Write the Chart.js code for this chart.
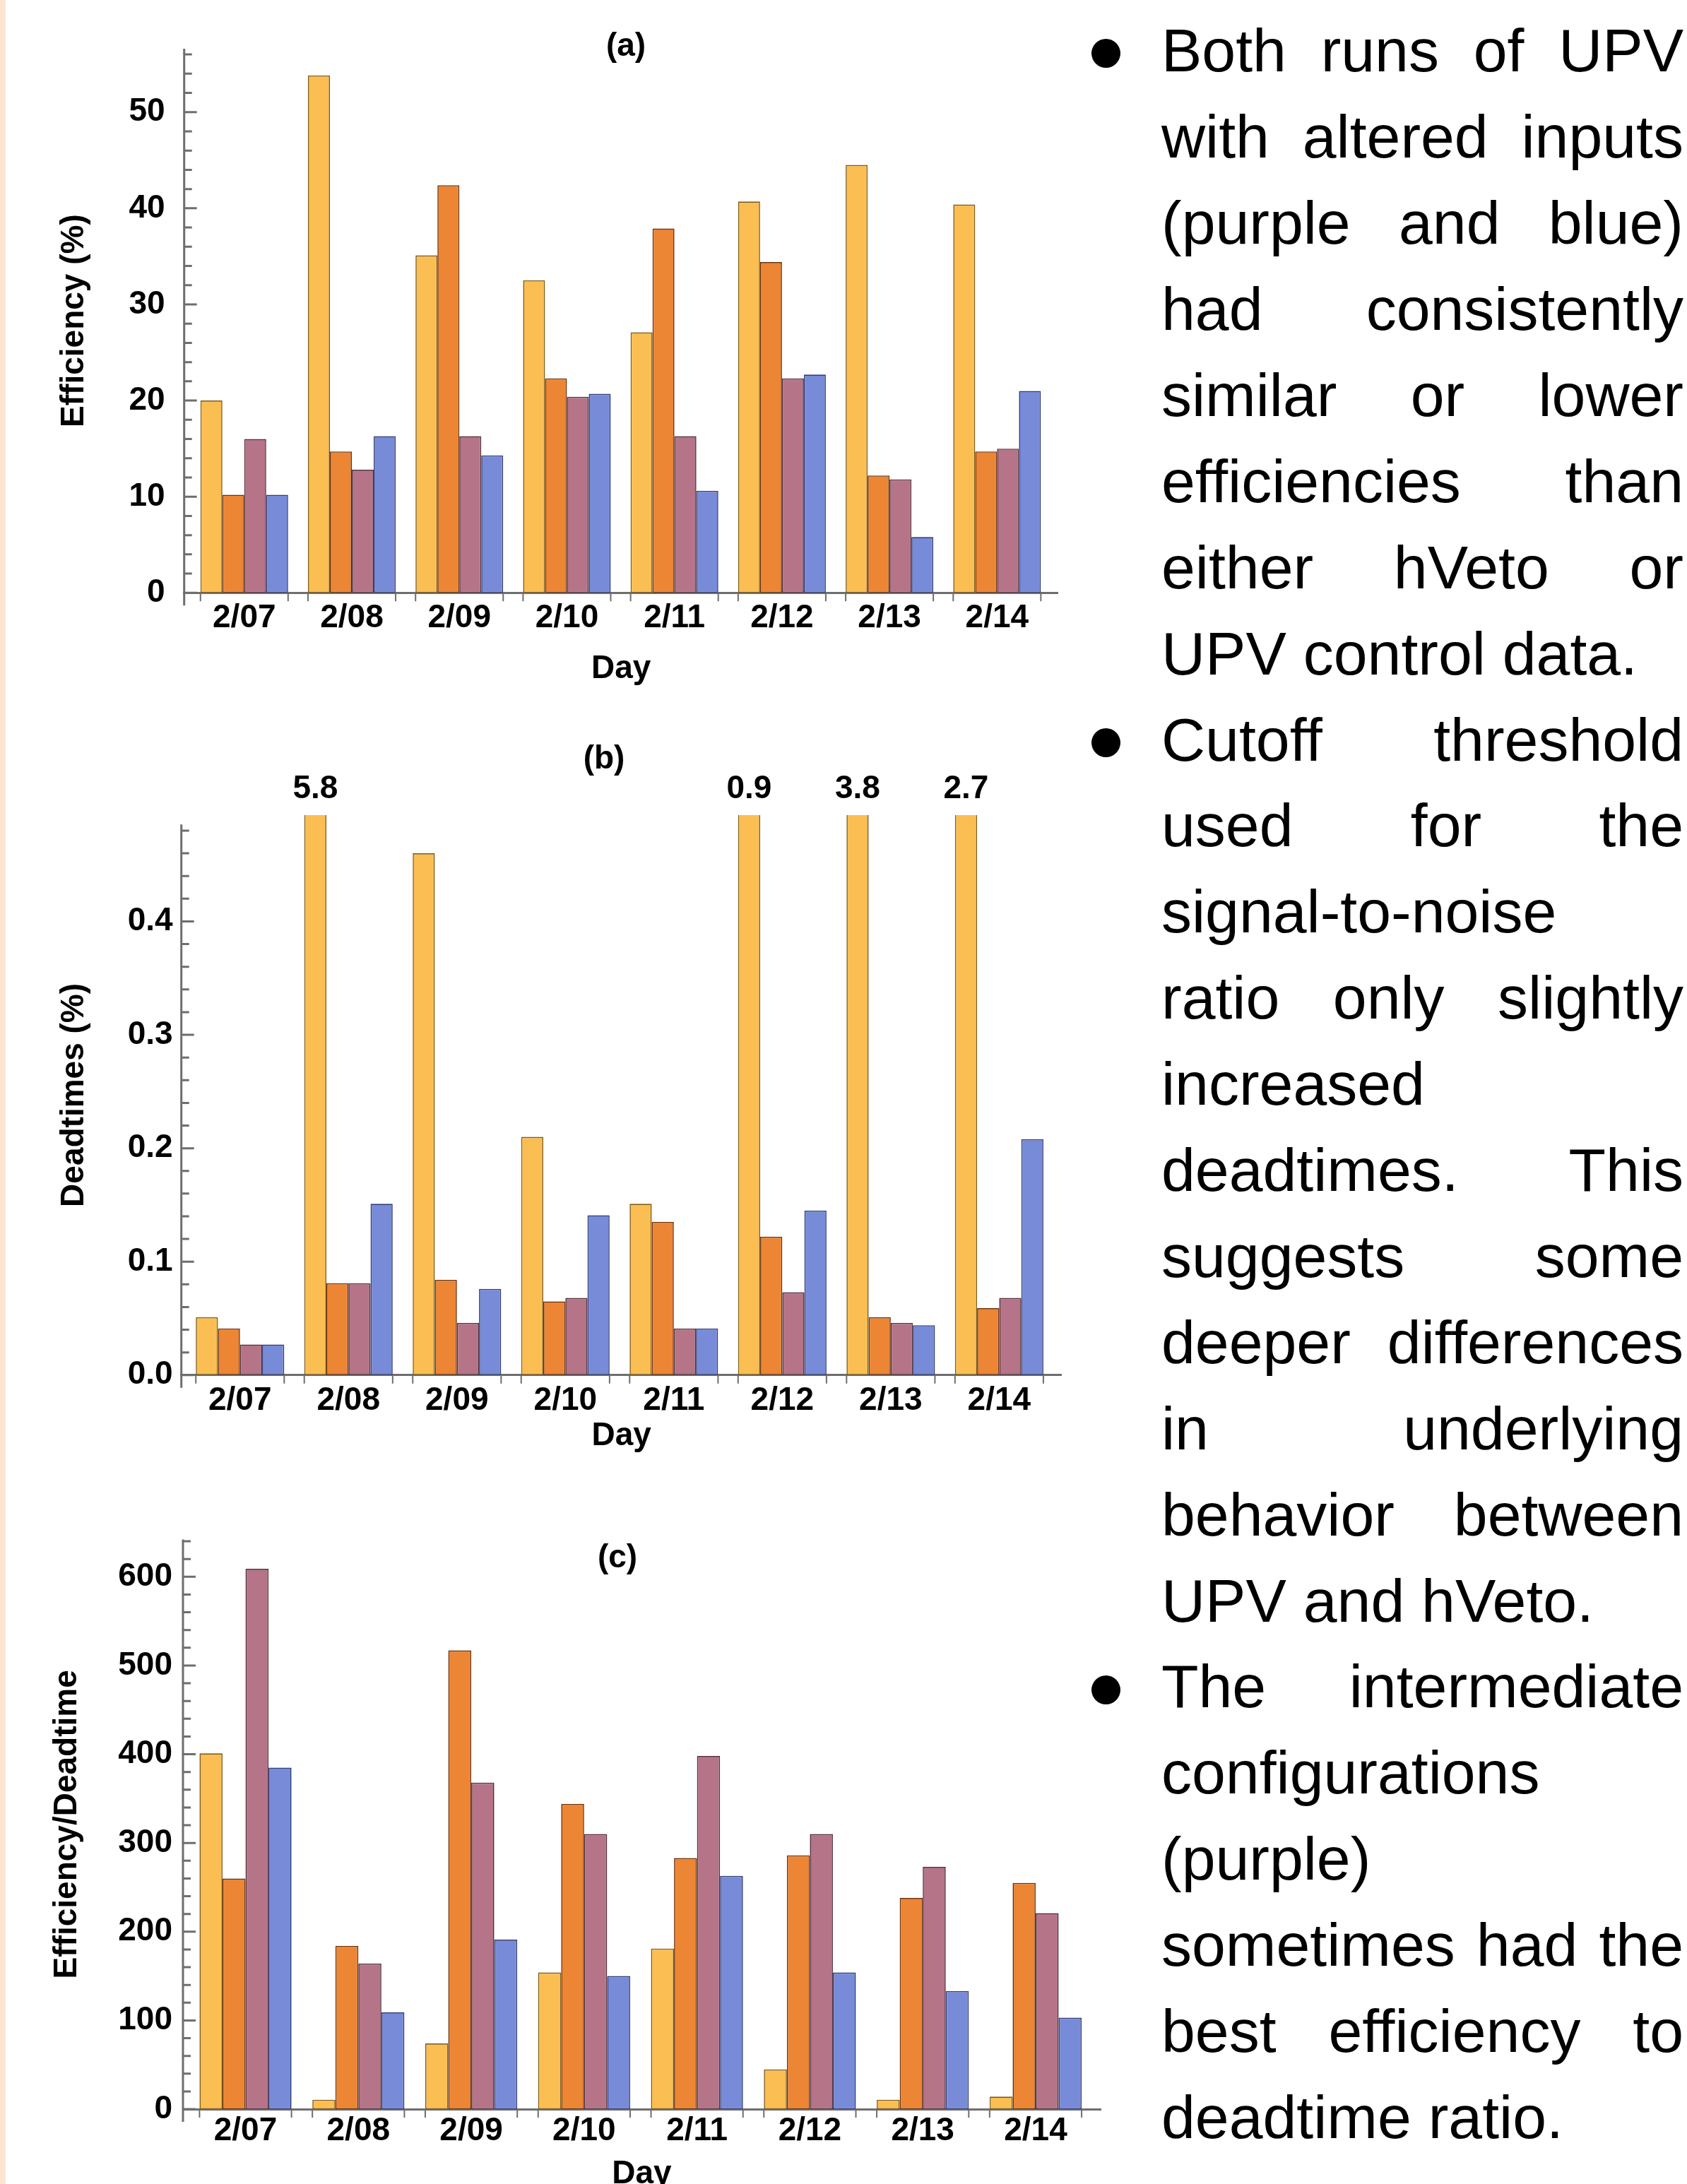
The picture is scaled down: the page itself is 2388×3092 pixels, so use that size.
<!DOCTYPE html>
<html>
<head>
<meta charset="utf-8">
<script src="https://cdn.jsdelivr.net/npm/chart.js@4.4.1/dist/chart.umd.min.js"></script>
<style>
  html, body { margin: 0; padding: 0; background: #fff; }
  body { width: 2388px; height: 3092px; position: relative; overflow: hidden; font-family: 'Liberation Sans', Arial, sans-serif; }
  .strip { position: absolute; left: 0; top: 0; width: 8px; height: 3092px; background: #fce5d1; }
  canvas { position: absolute; left: 0; }
  #notes { position: absolute; left: 1644px; top: 11.25px; width: 739px; font-size: 86px; line-height: 121.9px; color: #000; }
  #notes div { text-align: justify; text-align-last: justify; }
  #notes div.end { text-align-last: left; }
  .dot { position: absolute; left: 1545px; width: 41px; height: 41px; border-radius: 50%; background: #000; }
</style>
</head>
<body>
<div class="strip"></div>
<canvas id="chartA" width="1600" height="975" style="top:0px"></canvas>
<canvas id="chartB" width="1600" height="1061" style="top:1000px"></canvas>
<canvas id="chartC" width="1600" height="1026" style="top:2080px"></canvas>

<div class="dot" style="top:55px"></div>
<div class="dot" style="top:1031px"></div>
<div class="dot" style="top:2372px"></div>
<div id="notes">
  <div>Both runs of UPV</div>
  <div>with altered inputs</div>
  <div>(purple and blue)</div>
  <div>had consistently</div>
  <div>similar or lower</div>
  <div>efficiencies than</div>
  <div>either hVeto or</div>
  <div class="end">UPV control data.</div>
  <div>Cutoff threshold</div>
  <div>used for the</div>
  <div>signal-to-noise</div>
  <div>ratio only slightly</div>
  <div>increased</div>
  <div>deadtimes. This</div>
  <div>suggests some</div>
  <div>deeper differences</div>
  <div>in underlying</div>
  <div>behavior between</div>
  <div class="end">UPV and hVeto.</div>
  <div>The intermediate</div>
  <div>configurations</div>
  <div>(purple)</div>
  <div>sometimes had the</div>
  <div>best efficiency to</div>
  <div class="end">deadtime ratio.</div>
</div>

<script>
const days = ['2/07', '2/08', '2/09', '2/10', '2/11', '2/12', '2/13', '2/14'];
const seriesNames = ['hVeto', 'UPV control', 'UPV intermediate', 'UPV altered'];

// (a) efficiency, %
const effHveto = [20.0, 53.8, 35.1, 32.5, 27.1, 40.7, 44.5, 40.4];
const effUpv   = [10.2, 14.7, 42.4, 22.3, 37.9, 34.4, 12.2, 14.7];
const effMid   = [16.0, 12.8, 16.3, 20.4, 16.3, 22.3, 11.8, 15.0];
const effAlt   = [10.2, 16.3, 14.3, 20.7, 10.6, 22.7, 5.8, 21.0];

// (b) deadtime, % (hVeto values above the axis are printed over the bar)
const deadHveto = [0.051, 5.8, 0.46, 0.21, 0.151, 0.9, 3.8, 2.7];
const deadUpv   = [0.041, 0.081, 0.084, 0.065, 0.135, 0.122, 0.051, 0.059];
const deadMid   = [0.027, 0.081, 0.046, 0.068, 0.041, 0.073, 0.046, 0.068];
const deadAlt   = [0.027, 0.151, 0.076, 0.141, 0.041, 0.145, 0.044, 0.208];

// (c) efficiency / deadtime
const ratioHveto = [401, 10.6, 74, 154, 181, 44.6, 10.6, 14.1];
const ratioUpv   = [260, 184, 517, 344, 283, 286, 238, 255];
const ratioMid   = [609, 164, 368, 310, 398, 310, 273, 221];
const ratioAlt   = [385, 109, 191, 150, 263, 154, 133, 103];

const fills = ['#fbbe52', '#ec8534', '#b57488', '#788bd8'];
const edges = ['#7d5a17', '#6a300a', '#53303d', '#313d75'];
const axisGray = '#6e6e6e';
const group = 0.815;
const boldFont = { family: "'Liberation Sans', Arial, sans-serif", size: 46, weight: 'bold' };

Chart.defaults.color = '#000';

// inward y ticks, group edge ticks on x, panel label and values of cut-off bars
const axisMarks = {
  id: 'axisMarks',
  afterDatasetsDraw(chart, args, opts) {
    const { ctx, chartArea: a, scales: { x, y } } = chart;
    ctx.save();
    ctx.strokeStyle = axisGray;
    ctx.lineWidth = 3;
    ctx.beginPath();
    const top = y.getPixelForValue(opts.axisTop ?? y.max);
    ctx.moveTo(a.left, top);
    ctx.lineTo(a.left, a.bottom + 18);
    y.ticks.forEach(t => {
      const p = y.getPixelForValue(t.value);
      const len = t.label ? 18 : 11;
      ctx.moveTo(a.left, p);
      ctx.lineTo(a.left + len, p);
    });
    ctx.stroke();

    ctx.lineWidth = 2;
    ctx.beginPath();
    days.forEach((d, i) => {
      [i - group / 2, i + group / 2].forEach(v => {
        const p = x.getPixelForValue(v);
        ctx.moveTo(p, a.bottom);
        ctx.lineTo(p, a.bottom + 12);
      });
    });
    ctx.stroke();

    ctx.fillStyle = '#000';
    ctx.font = "bold 46px 'Liberation Sans', Arial, sans-serif";
    ctx.textAlign = 'center';
    ctx.textBaseline = 'middle';
    if (opts.panel) ctx.fillText(opts.panel.text, opts.panel.x, opts.panel.y);
    chart.data.datasets.forEach((ds, di) => {
      chart.getDatasetMeta(di).data.forEach((bar, i) => {
        const v = ds.data[i].y;
        if (v > y.max) ctx.fillText(String(v), bar.x, a.top - 37);
      });
    });
    ctx.restore();
  }
};

function isMajor(v, major) {
  const r = v / major;
  return Math.abs(r - Math.round(r)) < 1e-6;
}

function buildChart(id, p) {
  const datasets = p.series.map((values, k) => ({
    label: seriesNames[k],
    data: values.map((v, i) => ({ x: i, y: v })),
    backgroundColor: fills[k],
    borderColor: edges[k],
    borderWidth: 1.6,
    borderSkipped: false,
    categoryPercentage: group,
    barPercentage: 1
  }));

  return new Chart(document.getElementById(id), {
    type: 'bar',
    data: { datasets },
    plugins: [axisMarks],
    options: {
      responsive: false,
      animation: false,
      devicePixelRatio: 1,
      layout: { padding: { left: 0, top: p.padTop, right: p.padRight, bottom: 0 } },
      plugins: {
        legend: { display: false },
        tooltip: { enabled: false },
        axisMarks: { axisTop: p.axisTop, panel: p.panel }
      },
      scales: {
        x: {
          type: 'linear',
          offset: false,
          min: p.xMin,
          max: p.xMax,
          afterBuildTicks: s => { s.ticks = days.map((d, i) => ({ value: i })); },
          afterFit: s => { s.height = p.xHeight; },
          grid: { display: false, drawTicks: false },
          border: { display: true, color: axisGray, width: 3 },
          ticks: {
            autoSkip: false, maxRotation: 0, padding: p.xPad,
            font: boldFont, color: '#000',
            callback: v => days[v]
          },
          title: { display: true, text: 'Day', font: boldFont, color: '#000', padding: 0 }
        },
        y: {
          type: 'linear',
          min: 0,
          max: p.yMax,
          afterFit: s => { s.width = p.left; },
          grid: { display: false, drawTicks: false },
          border: { display: false },
          ticks: {
            stepSize: p.step, autoSkip: false, includeBounds: false, maxTicksLimit: 1000,
            padding: p.yPad, font: boldFont, color: '#000',
            callback: v => isMajor(v, p.major) ? p.fmt(v) : ''
          },
          title: {
            display: true, text: p.yTitle, font: boldFont, color: '#000',
            padding: { top: p.titlePad, bottom: 0 }
          }
        }
      }
    }
  });
}

buildChart('chartA', {
  series: [effHveto, effUpv, effMid, effAlt],
  yMax: 56.6, step: 2, major: 10, fmt: v => String(Math.round(v)),
  yTitle: 'Efficiency (%)', titlePad: 78, yPad: 27, left: 260.7,
  xMin: -0.559, xMax: 7.566, xPad: 8.4, xHeight: 135.7,
  padTop: 68.9, padRight: 102.5,
  panel: { text: '(a)', x: 886, y: 66 }
});

buildChart('chartB', {
  series: [deadHveto, deadUpv, deadMid, deadAlt],
  yMax: 0.4937, axisTop: 0.4855, step: 0.02, major: 0.1, fmt: v => v.toFixed(1),
  yTitle: 'Deadtimes (%)', titlePad: 78, yPad: 12, left: 256.7,
  xMin: -0.541, xMax: 7.574, xPad: 9, xHeight: 114.2,
  padTop: 154, padRight: 97.5,
  panel: { text: '(b)', x: 855, y: 75 }
});

buildChart('chartC', {
  series: [ratioHveto, ratioUpv, ratioMid, ratioAlt],
  yMax: 642, step: 20, major: 100, fmt: v => String(Math.round(v)),
  yTitle: 'Efficiency/Deadtime', titlePad: 68, yPad: 15, left: 259,
  xMin: -0.554, xMax: 7.576, xPad: 3.4, xHeight: 120,
  padTop: 99.6, padRight: 42,
  panel: { text: '(c)', x: 874, y: 126 }
});
</script>
</body>
</html>
